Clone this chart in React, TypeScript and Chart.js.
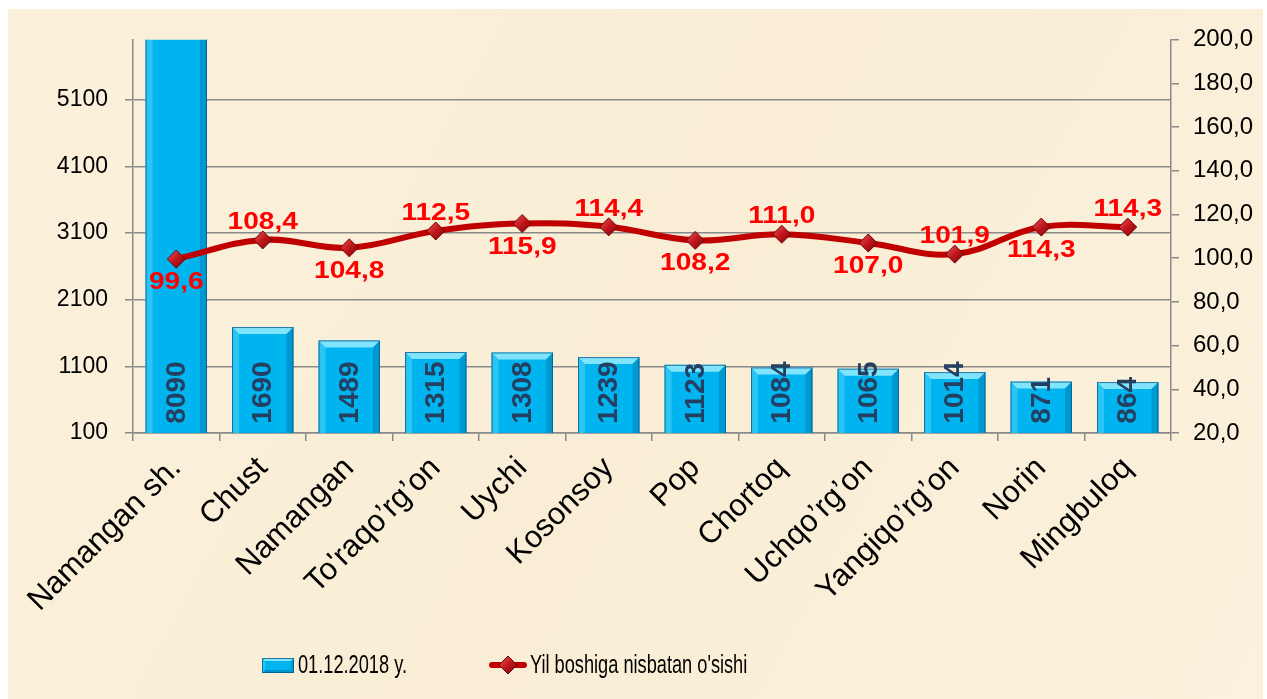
import React, { useEffect, useRef } from "react";
import { Chart, registerables } from "chart.js";

Chart.register(...registerables);

const categories = [
  "Namangan sh.",
  "Chust",
  "Namangan",
  "To'raqo’rg’on",
  "Uychi",
  "Kosonsoy",
  "Pop",
  "Chortoq",
  "Uchqo’rg’on",
  "Yangiqo’rg’on",
  "Norin",
  "Mingbuloq",
];

const values2018 = [8090, 1690, 1489, 1315, 1308, 1239, 1123, 1084, 1065, 1014, 871, 864];

const growthPct = [99.6, 108.4, 104.8, 112.5, 115.9, 114.4, 108.2, 111.0, 107.0, 101.9, 114.3, 114.3];

const growthLabelSide = [
  "below", "above", "below", "above", "below", "above",
  "below", "above", "below", "above", "below", "above",
];

const leftTicks = [100, 1100, 2100, 3100, 4100, 5100];
const rightTicks = [20, 40, 60, 80, 100, 120, 140, 160, 180, 200];

const seriesNames = ["01.12.2018 y.", "Yil boshiga nisbatan o'sishi"];

const FONT = "'Liberation Sans', Arial, sans-serif";
const BAR_COLOR = "#00B5EF";
const LINE_COLOR = "#C00000";
const GRID_COLOR = "#8a8a8a";

function makeDiamond(r: number): HTMLCanvasElement {
  const c = document.createElement("canvas");
  const s = r * 2 + 2;
  c.width = s;
  c.height = s;
  const g = c.getContext("2d")!;
  const m = s / 2;
  const grad = g.createLinearGradient(m - r, m - r, m + r, m + r);
  grad.addColorStop(0, "#ee5a5e");
  grad.addColorStop(0.5, "#c0161c");
  grad.addColorStop(1, "#7d0606");
  g.beginPath();
  g.moveTo(m, m - r);
  g.lineTo(m + r, m);
  g.lineTo(m, m + r);
  g.lineTo(m - r, m);
  g.closePath();
  g.fillStyle = grad;
  g.fill();
  g.strokeStyle = "#6e0000";
  g.lineWidth = 1;
  g.stroke();
  return c;
}

function poly(ctx: CanvasRenderingContext2D, pts: number[][], color: string) {
  ctx.beginPath();
  ctx.moveTo(pts[0][0], pts[0][1]);
  for (let i = 1; i < pts.length; i++) ctx.lineTo(pts[i][0], pts[i][1]);
  ctx.closePath();
  ctx.fillStyle = color;
  ctx.fill();
}

function bevel(ctx: CanvasRenderingContext2D, l: number, t: number, r: number, b: number, bv: number) {
  poly(ctx, [[l, t], [r, t], [r - bv, t + bv], [l + bv, t + bv]], "rgba(150,236,255,0.85)");
  poly(ctx, [[l, t], [l + bv, t + bv], [l + bv, b - bv], [l, b]], "rgba(120,225,255,0.35)");
  poly(ctx, [[r, t], [r, b], [r - bv, b - bv], [r - bv, t + bv]], "rgba(0,80,130,0.28)");
  poly(ctx, [[l, b], [r, b], [r - bv, b - bv], [l + bv, b - bv]], "rgba(0,80,130,0.35)");
  ctx.strokeStyle = "rgba(0,85,135,0.75)";
  ctx.lineWidth = 1;
  ctx.strokeRect(l + 0.5, t + 0.5, r - l - 1, b - t - 1);
}

export default function App() {
  const ref = useRef<HTMLCanvasElement>(null);

  useEffect(() => {
    const canvas = ref.current;
    if (!canvas) return;
    const diamond = makeDiamond(9);

    const bgPlugin = {
      id: "bg",
      beforeDraw(chart: any) {
        const { ctx, width, height } = chart;
        ctx.save();
        const g = ctx.createLinearGradient(0, 0, width, height);
        g.addColorStop(0, "#FBF1DB");
        g.addColorStop(0.5, "#F9EDD5");
        g.addColorStop(1, "#FBF1DC");
        ctx.fillStyle = g;
        ctx.fillRect(0, 0, width, height);
        ctx.restore();
      },
    };

    const barDeco = {
      id: "barDeco",
      afterDatasetDraw(chart: any, args: any) {
        if (args.index !== 0) return;
        const { ctx, chartArea } = chart;
        const meta = chart.getDatasetMeta(0);
        ctx.save();
        ctx.beginPath();
        ctx.rect(chartArea.left, chartArea.top, chartArea.right - chartArea.left, chartArea.bottom - chartArea.top);
        ctx.clip();
        meta.data.forEach((el: any) => {
          const p = el.getProps(["x", "y", "base", "width"], true);
          const l = p.x - p.width / 2;
          const r = p.x + p.width / 2;
          bevel(ctx, l, p.y, r, p.base, 7);
        });
        ctx.restore();
        ctx.save();
        ctx.font = `bold 28px ${FONT}`;
        ctx.fillStyle = "#243f60";
        ctx.textAlign = "left";
        ctx.textBaseline = "middle";
        meta.data.forEach((el: any, i: number) => {
          const p = el.getProps(["x", "base"], true);
          ctx.save();
          ctx.translate(p.x + 1, p.base - 16);
          ctx.rotate(-Math.PI / 2);
          ctx.fillText(String(values2018[i]), 0, 0);
          ctx.restore();
        });
        ctx.restore();
      },
    };

    const lineLabels = {
      id: "lineLabels",
      afterDatasetsDraw(chart: any) {
        const { ctx } = chart;
        const meta = chart.getDatasetMeta(1);
        ctx.save();
        ctx.font = `bold 24px ${FONT}`;
        ctx.fillStyle = "#FF0000";
        ctx.textAlign = "center";
        ctx.textBaseline = "alphabetic";
        meta.data.forEach((pt: any, i: number) => {
          const p = pt.getProps(["x", "y"], true);
          const label = growthPct[i].toFixed(1).replace(".", ",");
          const ty = growthLabelSide[i] === "above" ? p.y - 11 : p.y + 30;
          ctx.save();
          ctx.translate(p.x, ty);
          ctx.scale(1.17, 1);
          ctx.fillText(label, 0, 0);
          ctx.restore();
        });
        ctx.restore();
      },
    };

    const legendPlugin = {
      id: "customLegend",
      afterDraw(chart: any) {
        const { ctx } = chart;
        const cy = 656;
        ctx.save();
        ctx.fillStyle = BAR_COLOR;
        ctx.fillRect(254, cy - 7, 32, 15);
        bevel(ctx, 254, cy - 7, 286, cy + 8, 3);
        ctx.fillStyle = "#000";
        ctx.font = `26px ${FONT}`;
        ctx.textAlign = "left";
        ctx.textBaseline = "middle";
        ctx.save();
        ctx.translate(290, cy + 1);
        ctx.scale(0.7, 1);
        ctx.fillText(seriesNames[0], 0, 0);
        ctx.restore();
        ctx.strokeStyle = LINE_COLOR;
        ctx.lineWidth = 6;
        ctx.lineCap = "round";
        ctx.beginPath();
        ctx.moveTo(484, cy);
        ctx.lineTo(516, cy);
        ctx.stroke();
        ctx.drawImage(diamond, 500 - diamond.width / 2, cy - diamond.height / 2);
        ctx.save();
        ctx.translate(522, cy + 1);
        ctx.scale(0.7, 1);
        ctx.fillText(seriesNames[1], 0, 0);
        ctx.restore();
        ctx.restore();
      },
    };

    const chart = new Chart(canvas, {
      type: "bar",
      data: {
        labels: categories,
        datasets: [
          {
            type: "bar",
            label: seriesNames[0],
            data: values2018,
            yAxisID: "y",
            backgroundColor: BAR_COLOR,
            barPercentage: 0.71,
            categoryPercentage: 1,
            order: 2,
          } as any,
          {
            type: "line",
            label: seriesNames[1],
            data: growthPct,
            yAxisID: "y1",
            borderColor: LINE_COLOR,
            borderWidth: 6,
            tension: 0.4,
            fill: false,
            pointStyle: diamond,
            pointRadius: 9,
            clip: false,
            order: 1,
          } as any,
        ],
      },
      options: {
        responsive: false,
        animation: false,
        layout: { padding: { top: 29, left: 0, right: 0, bottom: 0 } },
        plugins: { legend: { display: false }, tooltip: { enabled: false } },
        scales: {
          x: {
            grid: { offset: true, drawOnChartArea: false, tickLength: 8, color: GRID_COLOR, lineWidth: 1.5 },
            border: { color: GRID_COLOR, width: 1.5 },
            ticks: {
              minRotation: 45,
              maxRotation: 45,
              autoSkip: false,
              color: "#000",
              padding: 9,
              font: { family: FONT, size: 31 },
            },
            afterFit: (s: any) => {
              s.height = 266;
            },
          },
          y: {
            position: "left",
            min: 100,
            max: 6000,
            afterBuildTicks: (s: any) => {
              s.ticks = leftTicks.map((v) => ({ value: v }));
            },
            grid: { color: GRID_COLOR, lineWidth: 1.5, tickLength: 8 },
            border: { color: GRID_COLOR, width: 1.5 },
            ticks: {
              color: "#000",
              padding: 17,
              font: { family: FONT, size: 23 },
              callback: (v: any) => String(v),
            },
            afterFit: (s: any) => {
              s.width = 125;
            },
          },
          y1: {
            position: "right",
            min: 20,
            max: 200,
            afterBuildTicks: (s: any) => {
              s.ticks = rightTicks.map((v) => ({ value: v }));
            },
            grid: { drawOnChartArea: false, color: GRID_COLOR, lineWidth: 1.5, tickLength: 8 },
            border: { color: GRID_COLOR, width: 1.5 },
            ticks: {
              color: "#000",
              padding: 14,
              font: { family: FONT, size: 24 },
              callback: (v: any) => Number(v).toFixed(1).replace(".", ","),
            },
            afterFit: (s: any) => {
              s.width = 92;
            },
          },
        },
      } as any,
      plugins: [bgPlugin, barDeco, lineLabels, legendPlugin],
    });

    return () => chart.destroy();
  }, []);

  return (
    <div style={{ position: "fixed", left: 8, top: 9, width: 1255, height: 690 }}>
      <canvas ref={ref} width={1255} height={690} style={{ display: "block" }} />
    </div>
  );
}
